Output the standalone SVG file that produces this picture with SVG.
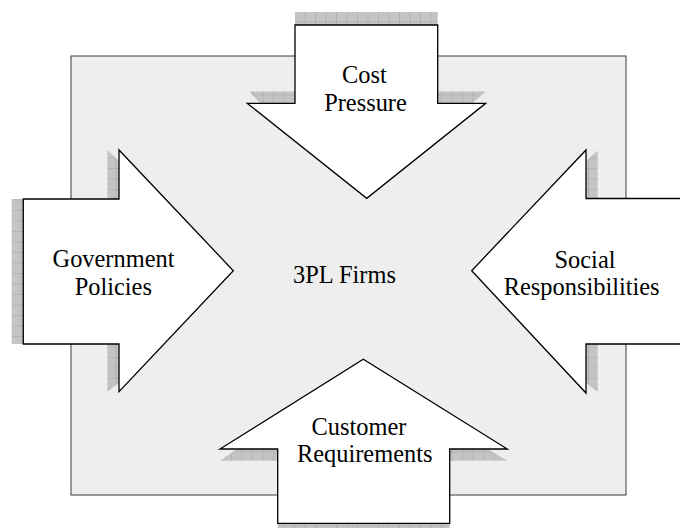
<svg xmlns="http://www.w3.org/2000/svg" width="680" height="528" viewBox="0 0 680 528">
  <defs>
    <!-- hatched grey used for the extruded arrow shadows -->
    <pattern id="hatch" patternUnits="userSpaceOnUse" width="10.5" height="10.5">
      <rect width="10.5" height="10.5" fill="#c4c4c4"/>
      <path d="M0 0H10.5M0 0V10.5" stroke="#a4a4a4" stroke-width="1"/>
    </pattern>
  </defs>
  <style>
    .box { fill: #eeeeee; stroke: #3a3a3a; stroke-width: 1; }
    .shadow { fill: url(#hatch); stroke: none; }
    .arrow { fill: #ffffff; stroke: #000000; stroke-width: 1.3; stroke-linejoin: miter; }
    .label { font-family: "Liberation Serif", "Times New Roman", serif; font-size: 24.4px; fill: #000000; text-anchor: middle; }
  </style>

  <rect width="680" height="528" fill="#ffffff"/>

  <!-- central field -->
  <g id="firms">
    <rect class="box" x="71" y="56" width="555" height="439"/>
    <text class="label" x="344.5" y="283">3PL Firms</text>
  </g>

  <!-- pressure arrows pointing at the field -->
  <g id="cost-pressure">
    <polygon class="shadow" points="295,12 437.7,12 437.7,25 295,25"/>
    <polygon class="shadow" points="249,91.5 295,91.5 295,103 260,103"/>
    <polygon class="shadow" points="437.7,91.5 485.5,91.5 473,103 437.7,103"/>
    <polygon class="arrow" points="295,25 437.7,25 437.7,103.3 485.7,103.3 366.7,198.3 247.3,103.3 295,103.3"/>
    <text class="label" x="364.3" y="83">Cost</text>
    <text class="label" x="365.5" y="111">Pressure</text>
  </g>

  <g id="government-policies">
    <polygon class="shadow" points="11.7,199 23.3,199 23.3,344 11.7,344"/>
    <polygon class="shadow" points="107.3,150 119,161 119,199 107.3,199"/>
    <polygon class="shadow" points="107.3,344 119,344 119,383 107.3,391.7"/>
    <polygon class="arrow" points="23.3,199 119,199 119,150 233.3,270.7 119,391.7 119,344 23.3,344"/>
    <text class="label" x="113.5" y="266.7">Government</text>
    <text class="label" x="113.3" y="295">Policies</text>
  </g>

  <g id="social-responsibilities">
    <polygon class="shadow" points="586,161 597.7,150.5 597.7,199 586,199"/>
    <polygon class="shadow" points="586,344 597.7,344 597.7,391.7 586,383"/>
    <polygon class="arrow" points="690,198.5 586,198.5 586,150 471.7,270.7 586,393 586,344 690,344"/>
    <text class="label" x="585" y="268.3">Social</text>
    <text class="label" x="581.7" y="295">Responsibilities</text>
  </g>

  <g id="customer-requirements">
    <polygon class="shadow" points="277.7,523.3 449.7,523.3 449.7,528 277.7,528"/>
    <polygon class="shadow" points="220,460.7 237,449 277.7,449 277.7,460.7"/>
    <polygon class="shadow" points="449.7,449 488,449 507,460.7 449.7,460.7"/>
    <polygon class="arrow" points="277.7,523.3 449.7,523.3 449.7,449 507.3,449 363.3,359.3 220,449 277.7,449"/>
    <text class="label" x="359" y="435">Customer</text>
    <text class="label" x="364.7" y="461.7">Requirements</text>
  </g>

  <!-- the diagram has no separate connector lines -->
  <g id="connectors"/>
</svg>
